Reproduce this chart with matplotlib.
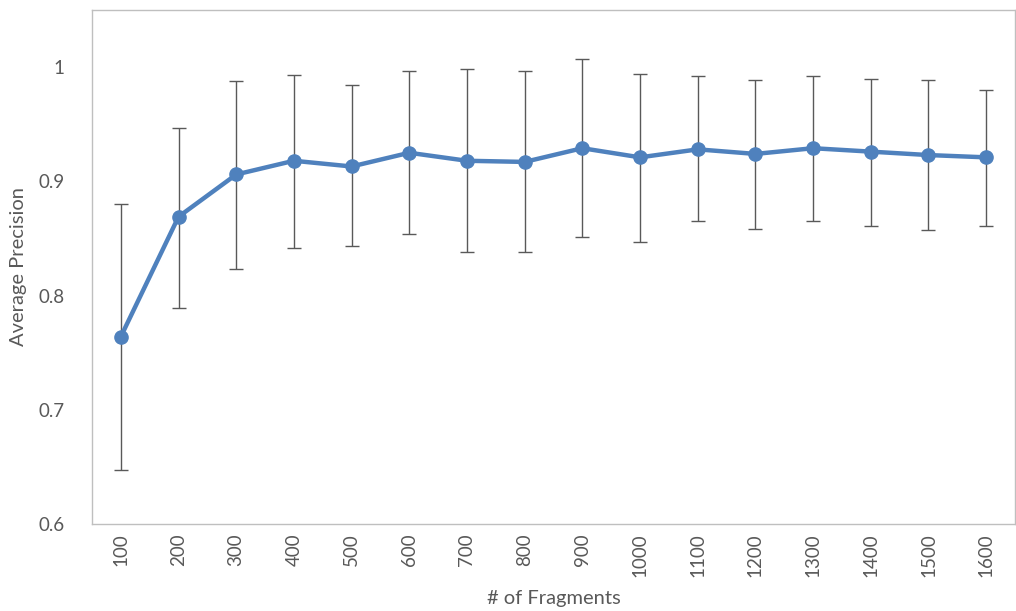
import matplotlib
matplotlib.use("Agg")
import matplotlib.pyplot as plt
import numpy as np

fragments = ["100", "200", "300", "400", "500", "600", "700", "800",
             "900", "1000", "1100", "1200", "1300", "1400", "1500", "1600"]
avg_precision = [0.764, 0.869, 0.906, 0.918, 0.913, 0.925, 0.918, 0.917,
                 0.929, 0.921, 0.928, 0.924, 0.929, 0.926, 0.923, 0.921]
err_upper = [0.880, 0.947, 0.988, 0.993, 0.984, 0.997, 0.998, 0.997,
             1.007, 0.994, 0.992, 0.989, 0.992, 0.990, 0.989, 0.980]
err_lower = [0.647, 0.789, 0.823, 0.842, 0.843, 0.854, 0.838, 0.838,
             0.851, 0.847, 0.865, 0.858, 0.865, 0.861, 0.857, 0.861]

plt.rcParams['font.family'] = ['Lato', 'DejaVu Sans']

fig = plt.figure(figsize=(10.16, 6.11), dpi=100)
ax = fig.add_axes([92/1016, (611-524)/611, (1015-92)/1016, (524-10)/611])

x = np.arange(len(fragments))
y = np.array(avg_precision)
yerr = np.array([y - np.array(err_lower), np.array(err_upper) - y])

ax.errorbar(x, y, yerr=yerr, fmt='none', ecolor='#595959', elinewidth=1.0,
            capsize=5, capthick=1.0, zorder=2)
ax.plot(x, y, color='#4f81bd', lw=3.2, marker='o', markersize=9.5, zorder=3)

ax.set_xlim(-0.5, len(fragments) - 0.5)
ax.set_ylim(0.6, 1.05)
ax.set_yticks([0.6, 0.7, 0.8, 0.9, 1.0])
ax.set_yticklabels(["0.6", "0.7", "0.8", "0.9", "1"])
ax.set_xticks(x)
ax.set_xticklabels(fragments, rotation=90)

for s in ax.spines.values():
    s.set_color('#bfbfbf')
    s.set_linewidth(1.0)

ax.tick_params(axis='both', length=0, colors='#595959', labelsize=13.5)
ax.tick_params(axis='y', pad=20)
ax.tick_params(axis='x', pad=7)

ax.set_xlabel("# of Fragments", fontsize=14.5, color='#595959', labelpad=9)
ax.set_ylabel("Average Precision", fontsize=14.5, color='#595959', labelpad=8)

fig.savefig("out.png", dpi=100)
